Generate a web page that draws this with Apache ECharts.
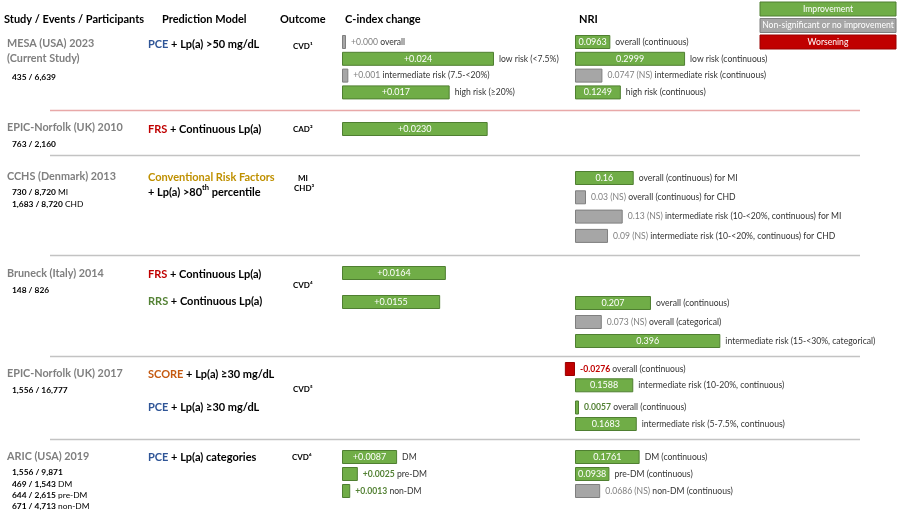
<!DOCTYPE html>
<html><head><meta charset="utf-8">
<script src="https://cdn.jsdelivr.net/npm/echarts/dist/echarts.min.js"></script>
<style>html,body{margin:0;padding:0;background:#fff}#c{width:900px;height:513px}</style>
</head><body><div id="c"></div><script>
// ---------------- DATA ----------------
// MESA (USA) 2023
const mesaCValues = [0.000, 0.024, 0.001, 0.017];
const mesaCStatus = ['ns', 'sig', 'ns', 'sig'];
const mesaCLabels = ['overall', 'low risk (<7.5%)', 'intermediate risk (7.5-<20%)', 'high risk (≥20%)'];
const mesaNriValues = [0.0963, 0.2999, 0.0747, 0.1249];
const mesaNriStatus = ['sig', 'sig', 'ns', 'sig'];
const mesaNriLabels = ['overall (continuous)', 'low risk (continuous)', 'intermediate risk (continuous)', 'high risk (continuous)'];
// EPIC-Norfolk (UK) 2010
const epic10CValues = [0.0230];
const epic10CStatus = ['sig'];
const epic10CLabels = [''];
// CCHS (Denmark) 2013
const cchsNriValues = [0.16, 0.03, 0.13, 0.09];
const cchsNriStatus = ['sig', 'ns', 'ns', 'ns'];
const cchsNriLabels = ['overall (continuous) for MI', 'overall (continuous) for CHD', 'intermediate risk (10-<20%, continuous) for MI', 'intermediate risk (10-<20%, continuous) for CHD'];
// Bruneck (Italy) 2014
const bruneckCValues = [0.0164, 0.0155];
const bruneckCStatus = ['sig', 'sig'];
const bruneckCLabels = ['', ''];
const bruneckNriValues = [0.207, 0.073, 0.396];
const bruneckNriStatus = ['sig', 'ns', 'sig'];
const bruneckNriLabels = ['overall (continuous)', 'overall (categorical)', 'intermediate risk (15-<30%, categorical)'];
// EPIC-Norfolk (UK) 2017
const epic17ScoreNriValues = [-0.0276, 0.1588];
const epic17ScoreNriStatus = ['worse', 'sig'];
const epic17ScoreNriLabels = ['overall (continuous)', 'intermediate risk (10-20%, continuous)'];
const epic17PceNriValues = [0.0057, 0.1683];
const epic17PceNriStatus = ['sig', 'sig'];
const epic17PceNriLabels = ['overall (continuous)', 'intermediate risk (5-7.5%, continuous)'];
// ARIC (USA) 2019
const aricCValues = [0.0087, 0.0025, 0.0013];
const aricCStatus = ['sig', 'sig', 'sig'];
const aricCLabels = ['DM', 'pre-DM', 'non-DM'];
const aricNriValues = [0.1761, 0.0938, 0.0686];
const aricNriStatus = ['sig', 'sig', 'ns'];
const aricNriLabels = ['DM (continuous)', 'pre-DM (continuous)', 'non-DM (continuous)'];

const legendLabels = ['Improvement', 'Non-significant or no improvement', 'Worsening'];

// ---------------- LAYOUT / STYLE ----------------
const FONT = 'Lato';
const GREEN = '#70ad47', GREEN_B = '#4f7f31', GREY = '#a6a6a6', GREY_B = '#7f7f7f', RED = '#c00000';
const C_ZERO_X = 342, C_PX = 6333;
const N_ZERO_X = 575, N_PX = 367;
const LBL = 8.6;

const blocks = [
  { col: 'C', first: 42, step: 16.8, v: mesaCValues, s: mesaCStatus, l: mesaCLabels, dec: 3 },
  { col: 'N', first: 42, step: 16.8, v: mesaNriValues, s: mesaNriStatus, l: mesaNriLabels, dec: 4 },
  { col: 'C', first: 129, step: 20, v: epic10CValues, s: epic10CStatus, l: epic10CLabels, dec: 4 },
  { col: 'N', first: 178, step: 19.3, v: cchsNriValues, s: cchsNriStatus, l: cchsNriLabels, dec: 2 },
  { col: 'C', first: 273, step: 29, v: bruneckCValues, s: bruneckCStatus, l: bruneckCLabels, dec: 4 },
  { col: 'N', first: 303, step: 19, v: bruneckNriValues, s: bruneckNriStatus, l: bruneckNriLabels, dec: 3 },
  { col: 'N', first: 369, step: 16.3, v: epic17ScoreNriValues, s: epic17ScoreNriStatus, l: epic17ScoreNriLabels, dec: 4 },
  { col: 'N', first: 407.5, step: 16.5, v: epic17PceNriValues, s: epic17PceNriStatus, l: epic17PceNriLabels, dec: 4 },
  { col: 'C', first: 457, step: 17, v: aricCValues, s: aricCStatus, l: aricCLabels, dec: 4 },
  { col: 'N', first: 457, step: 17, v: aricNriValues, s: aricNriStatus, l: aricNriLabels, dec: 4 }
];

const grid = [], xAxis = [], yAxis = [], series = [];
const fill = { sig: GREEN, ns: GREY, worse: RED };
const border = { sig: GREEN_B, ns: GREY_B, worse: '#9a0000' };

blocks.forEach((b, gi) => {
  const isC = b.col === 'C';
  const px = isC ? C_PX : N_PX;
  const min = isC ? 0 : -0.03, max = isC ? 0.03 : 0.5;
  const zeroX = isC ? C_ZERO_X : N_ZERO_X;
  grid.push({ left: zeroX + min * px, width: (max - min) * px, top: b.first - b.step / 2, height: b.step * b.v.length });
  xAxis.push({ gridIndex: gi, type: 'value', min, max, show: false });
  yAxis.push({ gridIndex: gi, type: 'category', inverse: true, show: false, data: b.v.map((_, i) => String(i)) });
  const fmt = v => (isC && v >= 0 ? '+' : '') + v.toFixed(b.dec);
  const inside = b.v.map((v, i) => b.s[i] === 'sig' && Math.abs(v) * px >= 30);
  series.push({
    type: 'bar', xAxisIndex: gi, yAxisIndex: gi, barWidth: 14, barMinHeight: 4, barGap: '-100%',
    data: b.v.map((v, i) => ({ value: v, itemStyle: { color: fill[b.s[i]], borderColor: border[b.s[i]], borderWidth: 1 } })),
    label: {
      show: true, position: 'inside', color: '#fff', fontFamily: FONT, fontSize: LBL + 0.4,
      formatter: p => inside[p.dataIndex] ? fmt(b.v[p.dataIndex]) : ''
    },
    silent: true
  });
  series.push({
    type: 'bar', xAxisIndex: gi, yAxisIndex: gi, barWidth: 14, barMinHeight: 4, barGap: '-100%',
    data: b.v.map(v => ({ value: v, itemStyle: { color: 'rgba(0,0,0,0)' } })),
    label: {
      show: true, position: 'right', distance: 5, fontFamily: FONT, fontSize: LBL, color: '#333',
      formatter: p => {
        const i = p.dataIndex, st = b.s[i], d = b.l[i];
        if (inside[i]) return d ? '{d|' + d + '}' : '';
        const vt = fmt(b.v[i]) + (!isC && st === 'ns' ? ' (NS)' : '');
        return '{' + st + '|' + vt + '}' + (d ? '{d| ' + d + '}' : '');
      },
      rich: {
        d: { color: '#333', fontFamily: FONT, fontSize: LBL },
        ns: { color: '#7f7f7f', fontFamily: FONT, fontSize: LBL },
        sig: { color: '#548235', fontFamily: FONT, fontSize: LBL, fontWeight: 'bold' },
        worse: { color: RED, fontFamily: FONT, fontSize: LBL, fontWeight: 'bold' }
      }
    },
    silent: true
  });
});

// ---------------- TEXT / DECORATION ----------------
const g = [];
function txt(text, x, y, font, fillC, extra) {
  g.push({ type: 'text', silent: true, style: Object.assign({ text, x, y, font: font + ' ' + FONT, fill: fillC, textVerticalAlign: 'middle' }, extra || {}) });
}
function rich(text, x, y, richStyles) {
  g.push({ type: 'text', silent: true, style: { text, x, y, rich: richStyles, textVerticalAlign: 'middle', font: 'bold 11px ' + FONT, fill: '#000' } });
}
const H = 'bold 11px', S = 'bold 10.8px', CNT = 'bold 8.4px', OUT = 'bold 8px';
// headers
txt('Study / Events / Participants', 4, 19, H, '#000');
txt('Prediction Model', 162, 19, H, '#000');
txt('Outcome', 280, 19, H, '#000');
txt('C-index change', 345, 19, H, '#000');
txt('NRI', 579, 19, H, '#000');
// legend
[[GREEN, GREEN_B], [GREY, GREY_B], [RED, '#9a0000']].forEach((c, i) => {
  g.push({ type: 'rect', silent: true, shape: { x: 760, y: 2 + i * 16.5, width: 136, height: 14 }, style: { fill: c[0], stroke: c[1], lineWidth: 1 } });
  txt(legendLabels[i], 828, 9 + i * 16.5, '8.6px', '#fff', { textAlign: 'center' });
});
// separators
g.push({ type: 'line', silent: true, shape: { x1: 50, y1: 110.5, x2: 860, y2: 110.5 }, style: { stroke: '#e8a8a8', lineWidth: 1.5 } });
[155.5, 255.5, 356.5, 439.5].forEach(y => g.push({ type: 'line', silent: true, shape: { x1: 50, y1: y, x2: 860, y2: y }, style: { stroke: '#c3c3c3', lineWidth: 1.5 } }));
// studies
const SG = '#7f7f7f';
txt('MESA (USA) 2023', 7, 44, S, SG);
txt('(Current Study)', 7, 59, S, SG);
txt('435 / 6,639', 12, 77, CNT, '#000');
txt('EPIC-Norfolk (UK) 2010', 7, 128, S, SG);
txt('763 / 2,160', 12, 144, CNT, '#000');
txt('CCHS (Denmark) 2013', 7, 177, S, SG);
const cr = { b: { font: 'bold 8.4px ' + FONT, fill: '#000' }, n: { font: '8.4px ' + FONT, fill: '#000' } };
rich('{b|730 / 8,720}{n| MI}', 12, 192, cr);
rich('{b|1,683 / 8,720}{n| CHD}', 12, 204, cr);
txt('Bruneck (Italy) 2014', 7, 274, S, SG);
txt('148 / 826', 12, 290, CNT, '#000');
txt('EPIC-Norfolk (UK) 2017', 7, 374, S, SG);
txt('1,556 / 16,777', 12, 390, CNT, '#000');
txt('ARIC (USA) 2019', 7, 457, S, SG);
txt('1,556 / 9,871', 12, 472, CNT, '#000');
rich('{b|469 / 1,543}{n| DM}', 12, 484, cr);
rich('{b|644 / 2,615}{n| pre-DM}', 12, 495, cr);
rich('{b|671 / 4,713}{n| non-DM}', 12, 506, cr);
// models
const MF = 'bold 11px ' + FONT;
const mr = {
  k: { font: MF, fill: '#000' },
  pce: { font: MF, fill: '#2f5597' },
  frs: { font: MF, fill: '#c00000' },
  rrs: { font: MF, fill: '#548235' },
  crf: { font: MF, fill: '#bf9000' },
  sc: { font: MF, fill: '#c55a11' },
  a: { font: MF, fill: '#000', lineHeight: 17 },
  sup: { font: 'bold 7.5px ' + FONT, fill: '#000', verticalAlign: 'top', lineHeight: 8 }
};
rich('{pce|PCE}{k| + Lp(a) >50 mg/dL}', 148, 44, mr);
rich('{frs|FRS}{k| + Continuous Lp(a)}', 148, 129, mr);
rich('{crf|Conventional Risk Factors}', 148, 177, mr);
rich('{a|+ Lp(a) >80}{sup|th}{a| percentile}', 148, 192, mr);
rich('{frs|FRS}{k| + Continuous Lp(a)}', 148, 274, mr);
rich('{rrs|RRS}{k| + Continuous Lp(a)}', 148, 301, mr);
rich('{sc|SCORE}{k| + Lp(a) ≥30 mg/dL}', 148, 374, mr);
rich('{pce|PCE}{k| + Lp(a) ≥30 mg/dL}', 148, 407, mr);
rich('{pce|PCE}{k| + Lp(a) categories}', 148, 457, mr);
// outcomes
txt('CVD¹', 293, 46, OUT, '#000');
txt('CAD²', 293, 129, OUT, '#000');
txt('MI', 298, 178, OUT, '#000');
txt('CHD³', 294, 188, OUT, '#000');
txt('CVD⁴', 293, 285, OUT, '#000');
txt('CVD⁵', 293, 389, OUT, '#000');
txt('CVD⁶', 292, 457, OUT, '#000');

const chart = echarts.init(document.getElementById('c'), null, { renderer: 'canvas' });
chart.setOption({
  animation: false,
  backgroundColor: '#fff',
  textStyle: { fontFamily: FONT },
  grid, xAxis, yAxis, series,
  graphic: g
});
</script></body></html>
